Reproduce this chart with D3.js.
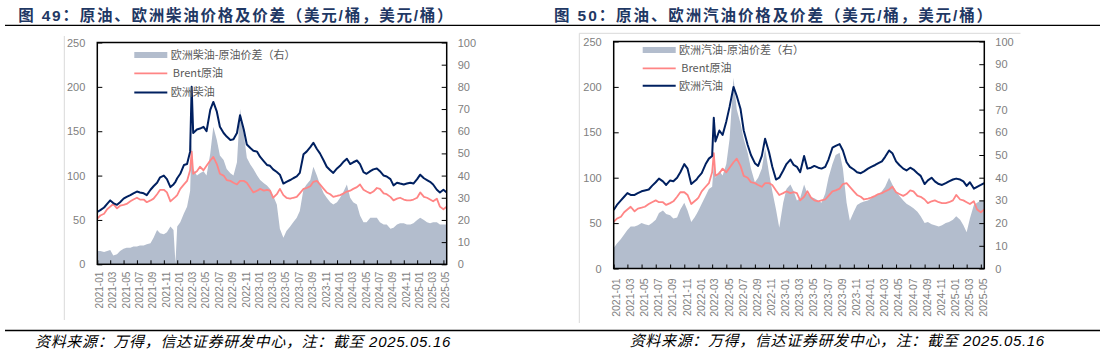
<!DOCTYPE html>
<html><head><meta charset="utf-8">
<script src="https://cdn.jsdelivr.net/npm/d3@7"></script>
<style>html,body{margin:0;padding:0;background:#fff;}svg{display:block}</style>
</head><body><svg id="c" width="1108" height="355"></svg>
<script>
const dates = [
"2021-01-01","2021-01-15","2021-02-01","2021-02-15","2021-03-01","2021-03-15","2021-04-01","2021-04-15","2021-05-01","2021-05-15","2021-06-01","2021-06-15","2021-07-01","2021-07-15","2021-08-01","2021-08-15","2021-09-01","2021-09-15","2021-10-01","2021-10-15","2021-11-01","2021-11-15","2021-12-01","2021-12-15","2021-12-24",
"2022-01-01","2022-01-15","2022-02-01","2022-02-15","2022-03-01","2022-03-08","2022-03-15","2022-04-01","2022-04-15","2022-05-01","2022-05-15","2022-06-01","2022-06-15","2022-07-01","2022-07-15","2022-08-01","2022-08-15","2022-09-01","2022-09-15","2022-10-01","2022-10-15","2022-11-01","2022-11-15","2022-12-01","2022-12-15",
"2023-01-01","2023-01-15","2023-02-01","2023-02-15","2023-03-01","2023-03-15","2023-04-01","2023-04-15","2023-05-01","2023-05-15","2023-06-01","2023-06-15","2023-07-01","2023-07-15","2023-08-01","2023-08-15","2023-09-01","2023-09-15","2023-10-01","2023-10-15","2023-11-01","2023-11-15","2023-12-01","2023-12-15",
"2024-01-01","2024-01-15","2024-02-01","2024-02-15","2024-03-01","2024-03-15","2024-04-01","2024-04-15","2024-05-01","2024-05-15","2024-06-01","2024-06-15","2024-07-01","2024-07-15","2024-08-01","2024-08-15","2024-09-01","2024-09-15","2024-10-01","2024-10-15","2024-11-01","2024-11-15","2024-12-01","2024-12-15",
"2025-01-01","2025-01-15","2025-02-01","2025-02-15","2025-03-01","2025-03-15","2025-04-01","2025-04-15","2025-05-01","2025-05-16"];

const brent = [
51.5,55,57,62,65,68,63,66,67,68,71,73,75,73,73,70,72,74,79,84,84,81,71,74,76,
78,85,90,94,106,127,102,105,110,106,111,117,121,113,102,100,95,94,92,90,94,94,92,86,81,
83,85,83,84,83,75,79,85,78,75,74,75,76,80,85,86,88,93,94,90,85,81,79,76,
77,78,80,82,83,85,87,90,84,82,80,82,86,85,80,79,76,72,74,75,73,72,72,73,
75,81,76,75,73,71,74,65,62,65];

const diesel = [
59,61,64,68,72,69,67,70,74,76,78,80,82,81,80,78,84,88,92,98,100,96,87,90,93,
97,102,112,113,127,200,148,152,153,155,150,174,183,172,155,148,144,140,141,148,168,152,135,131,128,
127,121,116,112,111,107,104,101,91,93,95,97,99,103,124,127,132,137,130,125,117,110,106,103,
108,111,116,119,113,115,117,113,104,102,105,107,108,105,100,99,96,89,92,91,90,91,92,91,
96,101,97,95,93,90,84,81,84,81];

const dieselSpread = [
6,6,5.5,6,6.5,4,4.5,6,7,7.5,7.5,8,8,8.5,8.5,9,9.5,12,15.5,14,13.5,14.5,17,15.5,0.5,
17,19,23,26,33,56,43,40,41,42,40,50,62,56,49,47,43,41,40,46,70,59,48,45,43,
40,38,36.5,35.5,34,31,27,16,12,15,17,19,21,24,34,36,38,44,40,36,32,30,28,27,
28,30,33,36,30,28,27,22,19,19,21,21,21,19,18,18,16,16.5,18,18.5,18.5,18,18,18.5,
20,21,20,19,18.5,19,19,18,18,18];

const gasoline = [
64.5,70,75,79,83,81,81,83,85,86,87,91,95,99,96,92,97,96,100,106,115,110,93,96,98,
101,105,115,121,124,166,140,152,147,162,178,200,190,176,152,136,125,116,113,124,143,128,112,98,100,
108,115,120,114,112,106,124,110,111,113,111,110,112,120,133,135,137,130,117,112,109,106,105,107,
110,112,114,116,118,123,130,127,118,114,110,108,111,109,105,102,93,97,100,96,93,92,94,96,
98,99,98,96,91,95,88,90,92,94];

const gasolineSpread = [
9,11,13,15,17,18.5,18.5,19,20,19.5,19,20,21.5,24.5,25.5,24,23.5,22,22.5,26,29,25.5,20.5,22.5,24,
25.5,28.5,32,35,36,46,40,43,41,46,57,84,70,64,57,51,44,38,40,44,53,42,34,26,18,
29,35,37,34,30,31,37,33,31.5,31,30,29,33,40,46,50,51,44,29,21,25,28,29,29.5,
30,31,32,32.5,34,36,40,37,34,32,30,28.5,27.5,26.5,25,23,20,20.5,19.5,19,18.5,19,20,20.5,
21.5,23,21.5,19,16,22,28,29,30,30];

const xTickLabels = ["2021-01","2021-03","2021-05","2021-07","2021-09","2021-11","2022-01","2022-03","2022-05","2022-07","2022-09","2022-11","2023-01","2023-03","2023-05","2023-07","2023-09","2023-11","2024-01","2024-03","2024-05","2024-07","2024-09","2024-11","2025-01","2025-03","2025-05"];
const leftTicks = [0,50,100,150,200,250];
const rightTicks = [0,10,20,30,40,50,60,70,80,90,100];
const titles = ["图 49：原油、欧洲柴油价格及价差（美元/桶，美元/桶）","图 50：原油、欧洲汽油价格及价差（美元/桶，美元/桶）"];
const legendDiesel = ["欧洲柴油-原油价差（右）","Brent原油","欧洲柴油"];
const legendGasoline = ["欧洲汽油-原油价差（右）","Brent原油","欧洲汽油"];
const sourceNote = "资料来源：万得，信达证券研发中心，注：截至 2025.05.16";

const parse = d3.timeParse("%Y-%m-%d");
const tParse = d3.timeParse("%Y-%m");
const svg = d3.select("#c");
const C_NAVY = "#002060", C_PINK = "#ff8585", C_AREA = "#b3bdcd", C_TXT = "#808080";

// fit a text to a target width: spread with letter-spacing, or shrink if too wide
function fitText(sel, target, base) {
  const len = sel.node().getComputedTextLength();
  const n = sel.text().length;
  if (len <= 0) return;
  if (len < target) sel.attr("letter-spacing", (target - len) / n);
  else sel.attr("font-size", base * target / len);
}

svg.append("line").attr("x1",5).attr("x2",1100).attr("y1",25.3).attr("y2",25.3).attr("stroke","#000").attr("stroke-width",1.3);
svg.append("line").attr("x1",5).attr("x2",1100).attr("y1",330.5).attr("y2",330.5).attr("stroke","#000").attr("stroke-width",1.3);

const panels = [
  {title: titles[0], tx: 18.3, tw: 436, gx: 64.3, gTop: null, gy0: 36, gy1: 320,
   x0: 97.3, x1: 446.7, y0: 42.5, y1: 264.3, line: diesel, spread: dieselSpread, legend: legendDiesel,
   lx: 134.3, ly: [55, 73.3, 92.5], labGap: 7.4, xfs: 10, fx: 35, fw: 416, fy: 347},
  {title: titles[1], tx: 554, tw: 440, gx: 579.3, gTop: 1020.5, gy0: 33.3, gy1: 323,
   x0: 613.7, x1: 984.3, y0: 41.5, y1: 268.5, line: gasoline, spread: gasolineSpread, legend: legendGasoline,
   lx: 642.7, ly: [50, 68.3, 85.7], labGap: 9.8, xfs: 10.5, fx: 629.7, fw: 415, fy: 346}
];

panels.forEach((p, pi) => {
  const t = svg.append("text").attr("x", p.tx).attr("y", 20.5)
    .attr("font-family", "'Liberation Sans','Noto Sans CJK SC',sans-serif")
    .attr("font-weight", "bold").attr("font-size", 15.5).attr("fill", "#1f3864").text(p.title);
  fitText(t, p.tw, 15.5);

  const f = svg.append("text").attr("x", p.fx).attr("y", p.fy)
    .attr("font-family", "'Liberation Sans','Noto Sans CJK SC',sans-serif")
    .attr("font-style", "italic").attr("font-size", 15).attr("fill", "#000").text(sourceNote);
  fitText(f, p.fw, 15);

  svg.append("line").attr("x1", p.gx).attr("x2", p.gx).attr("y1", p.gy0).attr("y2", p.gy1).attr("stroke", "#d9d9d9");
  if (p.gTop) svg.append("line").attr("x1", p.gx).attr("x2", p.gTop).attr("y1", p.gy0).attr("y2", p.gy0).attr("stroke", "#d9d9d9");

  const x = d3.scaleTime().domain([parse("2021-01-01"), parse("2025-05-16")]).range([p.x0, p.x1]);
  const yL = d3.scaleLinear().domain([0, 250]).range([p.y1, p.y0]);
  const yR = d3.scaleLinear().domain([0, 100]).range([p.y1, p.y0]);

  const data = dates.map((d, i) => ({d: parse(d), b: brent[i], v: p.line[i], s: p.spread[i]}));

  const clipId = "clip" + pi;
  svg.append("clipPath").attr("id", clipId).append("rect")
    .attr("x", p.x0).attr("y", p.y0).attr("width", p.x1 - p.x0).attr("height", p.y1 - p.y0);
  const g = svg.append("g").attr("clip-path", `url(#${clipId})`);

  g.append("path").datum(data).attr("fill", C_AREA)
    .attr("d", d3.area().x(d => x(d.d)).y0(yR(0)).y1(d => yR(d.s)));
  g.append("path").datum(data).attr("fill", "none").attr("stroke", C_PINK).attr("stroke-width", 1.8)
    .attr("stroke-linejoin", "round").attr("d", d3.line().x(d => x(d.d)).y(d => yL(d.b)));
  g.append("path").datum(data).attr("fill", "none").attr("stroke", C_NAVY).attr("stroke-width", 2)
    .attr("stroke-linejoin", "round").attr("d", d3.line().x(d => x(d.d)).y(d => yL(d.v)));

  const axL = svg.append("g").attr("transform", `translate(${p.x0},0)`)
    .call(d3.axisLeft(yL).tickValues(leftTicks).tickSizeInner(-5).tickSizeOuter(0).tickPadding(12));
  const axR = svg.append("g").attr("transform", `translate(${p.x1},0)`)
    .call(d3.axisRight(yR).tickValues(rightTicks).tickSizeInner(-5).tickSizeOuter(0).tickPadding(11));
  const axB = svg.append("g").attr("transform", `translate(0,${p.y1})`)
    .call(d3.axisBottom(x).tickValues(xTickLabels.map(tParse)).tickSizeInner(-4).tickSizeOuter(0)
      .tickFormat(d3.timeFormat("%Y-%m")));
  [axL, axR, axB].forEach(a => {
    a.select(".domain").remove();
    a.selectAll(".tick line").attr("stroke", "#000").attr("stroke-width", 1);
    a.selectAll("text").attr("fill", C_TXT).attr("font-family", "'Liberation Sans',Arial,sans-serif");
  });
  axL.selectAll("text").attr("font-size", 11);
  axR.selectAll("text").attr("font-size", 11);
  axB.selectAll("text").attr("font-size", p.xfs)
    .attr("transform", "rotate(-90)").attr("text-anchor", "end")
    .attr("x", -p.labGap).attr("y", 0).attr("dy", "0.55em");

  svg.append("rect").attr("x", p.x0).attr("y", p.y0).attr("width", p.x1 - p.x0).attr("height", p.y1 - p.y0)
    .attr("fill", "none").attr("stroke", "#000").attr("stroke-width", 1.5);

  const lg = svg.append("g").attr("font-family", "'Noto Sans CJK SC',sans-serif").attr("font-size", 11).attr("fill", "#595959");
  lg.append("rect").attr("x", p.lx).attr("y", p.ly[0] - 3).attr("width", 33).attr("height", 6).attr("fill", C_AREA);
  lg.append("line").attr("x1", p.lx).attr("x2", p.lx + 33).attr("y1", p.ly[1]).attr("y2", p.ly[1]).attr("stroke", C_PINK).attr("stroke-width", 1.8);
  lg.append("line").attr("x1", p.lx).attr("x2", p.lx + 33).attr("y1", p.ly[2]).attr("y2", p.ly[2]).attr("stroke", C_NAVY).attr("stroke-width", 2);
  lg.append("text").attr("x", p.lx + 36.4).attr("y", p.ly[0]).attr("dy", "0.36em").text(p.legend[0]);
  lg.append("text").attr("x", p.lx + 38.5).attr("y", p.ly[1]).attr("dy", "0.36em").text(p.legend[1]);
  lg.append("text").attr("x", p.lx + 36.4).attr("y", p.ly[2]).attr("dy", "0.36em").text(p.legend[2]);
});
</script></body></html>
